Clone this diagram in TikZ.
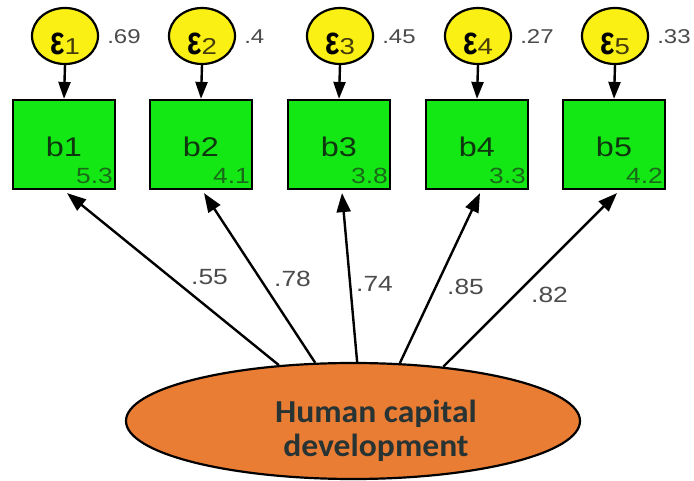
\documentclass[tikz,border=0pt]{standalone}
\usepackage{fontspec}
\usetikzlibrary{shapes.geometric,arrows.meta}

\newfontfamily\labfont[FakeStretch=1.2]{Liberation Sans}
\newfontfamily\epsfont{Liberation Sans}
\newfontfamily\capfont[FakeStretch=1.05]{Carlito}

\definecolor{boxgreen}{RGB}{20,232,20}
\definecolor{erryellow}{RGB}{250,240,20}
\definecolor{latorange}{RGB}{234,125,52}
\definecolor{labgray}{RGB}{75,75,75}
\definecolor{meangreen}{RGB}{25,105,25}
\definecolor{obsdark}{RGB}{15,55,15}
\definecolor{subolive}{RGB}{70,60,10}
\definecolor{captext}{RGB}{40,52,52}

\tikzset{
  obs/.style={draw=black, line width=2.2pt, fill=boxgreen,
    minimum width=102pt, minimum height=89pt, inner sep=0pt},
  err/.style={ellipse, draw=black, line width=2.2pt, fill=erryellow,
    minimum width=66pt, minimum height=56pt, inner sep=0pt},
  lat/.style={ellipse, draw=black, line width=2.2pt, fill=latorange,
    minimum width=454pt, minimum height=116pt, inner sep=0pt},
  epslab/.style={inner sep=0pt, anchor=base},
  varlab/.style={inner sep=0pt, anchor=base west, text=labgray,
    font=\labfont\fontsize{20}{20}\selectfont},
  pathlab/.style={inner sep=0pt, anchor=base west, text=labgray,
    font=\labfont\fontsize{22}{22}\selectfont},
  obslab/.style={inner sep=0pt, anchor=base, text=obsdark,
    font=\labfont\fontsize{27}{27}\selectfont},
  meanlab/.style={inner sep=0pt, anchor=base east, text=meangreen,
    font=\labfont\fontsize{22}{22}\selectfont},
  errarrow/.style={line width=2.4pt, -{Triangle[length=17pt,width=12pt]}},
  loadarrow/.style={line width=2.4pt, -{Triangle[length=19pt,width=14pt]}},
}

\begin{document}
\begin{tikzpicture}[x=1pt,y=-1pt]
\useasboundingbox (0,0) rectangle (694,481);

% measured variables with their error terms
\foreach \i/\x/\v/\m in {1/64/.69/5.3, 2/201/.4/4.1, 3/339/.45/3.8, 4/477/.27/3.3, 5/614/.33/4.2} {
  \node[err] (e\i) at (\x+1,36) {};
  \node[epslab] (t\i) at ([yshift=-19pt]e\i.center)
    {\epsfont\bfseries\fontsize{40}{40}\selectfont\scalebox{0.76}[1]{ε}%
     \labfont\mdseries\fontsize{23}{23}\selectfont\textcolor{subolive}{\i}};
  \node[varlab] (v\i) at ([xshift=8pt]e\i.east |- 0,44) {\v};
  \node[obs] (b\i) at (\x,144.5) {};
  \node[obslab] (n\i) at ([yshift=-12.5pt]b\i.center) {b\i};
  \node[meanlab] (m\i) at ([xshift=-3pt,yshift=7pt]b\i.south east) {\m};
  \draw[errarrow] (e\i.south) -- (b\i.north);
}

% latent factor
\node[lat] (hcd) at (353,421) {};
\node[inner sep=0pt, align=center, text=captext,
  font=\capfont\bfseries\fontsize{32}{34}\selectfont] (hcdtxt) at (376,431)
  {Human capital\\development};

% factor loadings
\foreach \i/\a/\lx/\ly/\l in {1/143/191/285/.55, 2/123/274/287/.78, 3/86/356/292/.74,
                              4/51/447/295/.85, 5/31/531/302/.82} {
  \draw[loadarrow] (hcd.\a) -- ([xshift=3pt,yshift=-3pt]b\i.south);
  \node[pathlab] (l\i) at (\lx,\ly) {\l};
}
\end{tikzpicture}
\end{document}
